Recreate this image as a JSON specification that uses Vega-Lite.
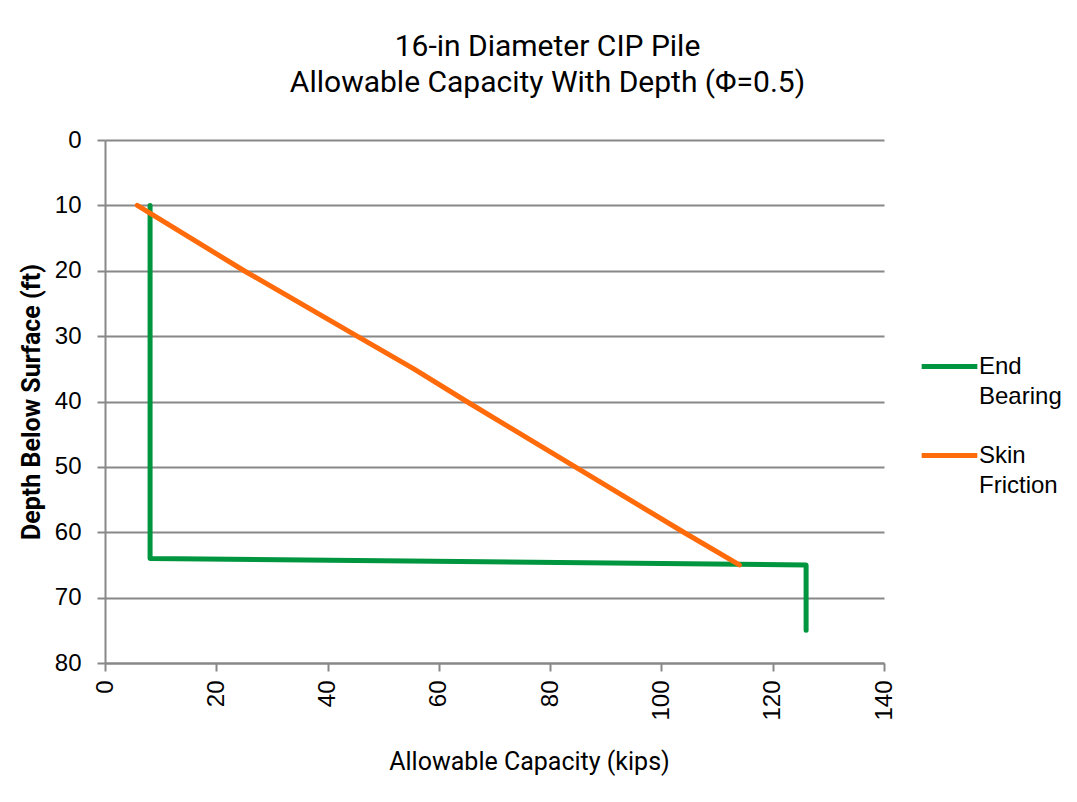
{
  "$schema": "https://vega.github.io/schema/vega-lite/v6.json",
  "width": 779,
  "height": 523,
  "autosize": {"type": "none"},
  "padding": {"left": 105, "top": 140, "right": 193, "bottom": 139},
  "background": "white",
  "title": {
    "text": ["16-in Diameter CIP Pile", "Allowable Capacity With Depth (Φ=0.5)"],
    "font": "Roboto",
    "fontSize": 30,
    "fontWeight": "normal",
    "color": "#000000",
    "lineHeight": 36,
    "anchor": "middle",
    "dx": 53,
    "offset": 30
  },
  "data": {
    "values": [
      {"series": "End Bearing", "ord": 1, "capacity": 8.1, "depth": 10},
      {"series": "End Bearing", "ord": 2, "capacity": 8.1, "depth": 64},
      {"series": "End Bearing", "ord": 3, "capacity": 126, "depth": 65},
      {"series": "End Bearing", "ord": 4, "capacity": 126, "depth": 75},
      {"series": "Skin Friction", "ord": 1, "capacity": 5.8, "depth": 10},
      {"series": "Skin Friction", "ord": 2, "capacity": 25, "depth": 20},
      {"series": "Skin Friction", "ord": 3, "capacity": 45.3, "depth": 30},
      {"series": "Skin Friction", "ord": 4, "capacity": 55.5, "depth": 35},
      {"series": "Skin Friction", "ord": 5, "capacity": 65, "depth": 40},
      {"series": "Skin Friction", "ord": 6, "capacity": 84.5, "depth": 50},
      {"series": "Skin Friction", "ord": 7, "capacity": 104, "depth": 60},
      {"series": "Skin Friction", "ord": 8, "capacity": 114, "depth": 65}
    ]
  },
  "mark": {"type": "line", "strokeWidth": 5, "strokeCap": "round", "strokeJoin": "round"},
  "encoding": {
    "x": {
      "field": "capacity",
      "type": "quantitative",
      "scale": {"domain": [0, 140], "nice": false},
      "axis": {
        "title": "Allowable Capacity (kips)",
        "values": [0, 20, 40, 60, 80, 100, 120, 140],
        "grid": false,
        "labelAngle": -90,
        "labelFont": "Liberation Sans",
        "labelFontSize": 24,
        "labelColor": "#000000",
        "labelPadding": 9,
        "tickSize": 8,
        "tickColor": "#888888",
        "tickWidth": 2,
        "domainColor": "#888888",
        "domainWidth": 2,
        "titleFont": "Roboto",
        "titleFontSize": 25,
        "titleFontWeight": "normal",
        "titleColor": "#000000",
        "titlePadding": 29,
        "titleX": 424
      }
    },
    "y": {
      "field": "depth",
      "type": "quantitative",
      "scale": {"domain": [0, 80], "nice": false, "reverse": true},
      "axis": {
        "title": "Depth Below Surface (ft)",
        "values": [0, 10, 20, 30, 40, 50, 60, 70, 80],
        "grid": true,
        "gridColor": "#888888",
        "gridWidth": 2,
        "labelFont": "Liberation Sans",
        "labelFontSize": 24,
        "labelColor": "#000000",
        "labelPadding": 16,
        "tickSize": 8,
        "tickColor": "#888888",
        "tickWidth": 2,
        "domainColor": "#888888",
        "domainWidth": 2,
        "titleFont": "Roboto",
        "titleFontSize": 25,
        "titleFontWeight": "bold",
        "titleColor": "#000000",
        "titlePadding": 10
      }
    },
    "color": {
      "field": "series",
      "type": "nominal",
      "scale": {"domain": ["End Bearing", "Skin Friction"], "range": ["#00953F", "#FF6A0A"]},
      "legend": {
        "title": null,
        "orient": "none",
        "legendX": 814,
        "legendY": 196,
        "symbolType": "stroke",
        "symbolSize": 3100,
        "symbolStrokeWidth": 5,
        "labelFont": "Liberation Sans",
        "labelFontSize": 24,
        "labelColor": "#000000",
        "labelLimit": 300,
        "labelBaseline": "middle",
        "labelExpr": "split(datum.label, ' ')",
        "rowPadding": 16,
        "labelOffset": -1,
        "encode": {"labels": {"update": {"lineHeight": {"value": 30}}}}
      }
    },
    "order": {"field": "ord", "type": "quantitative"}
  },
  "config": {"view": {"stroke": null}}
}
